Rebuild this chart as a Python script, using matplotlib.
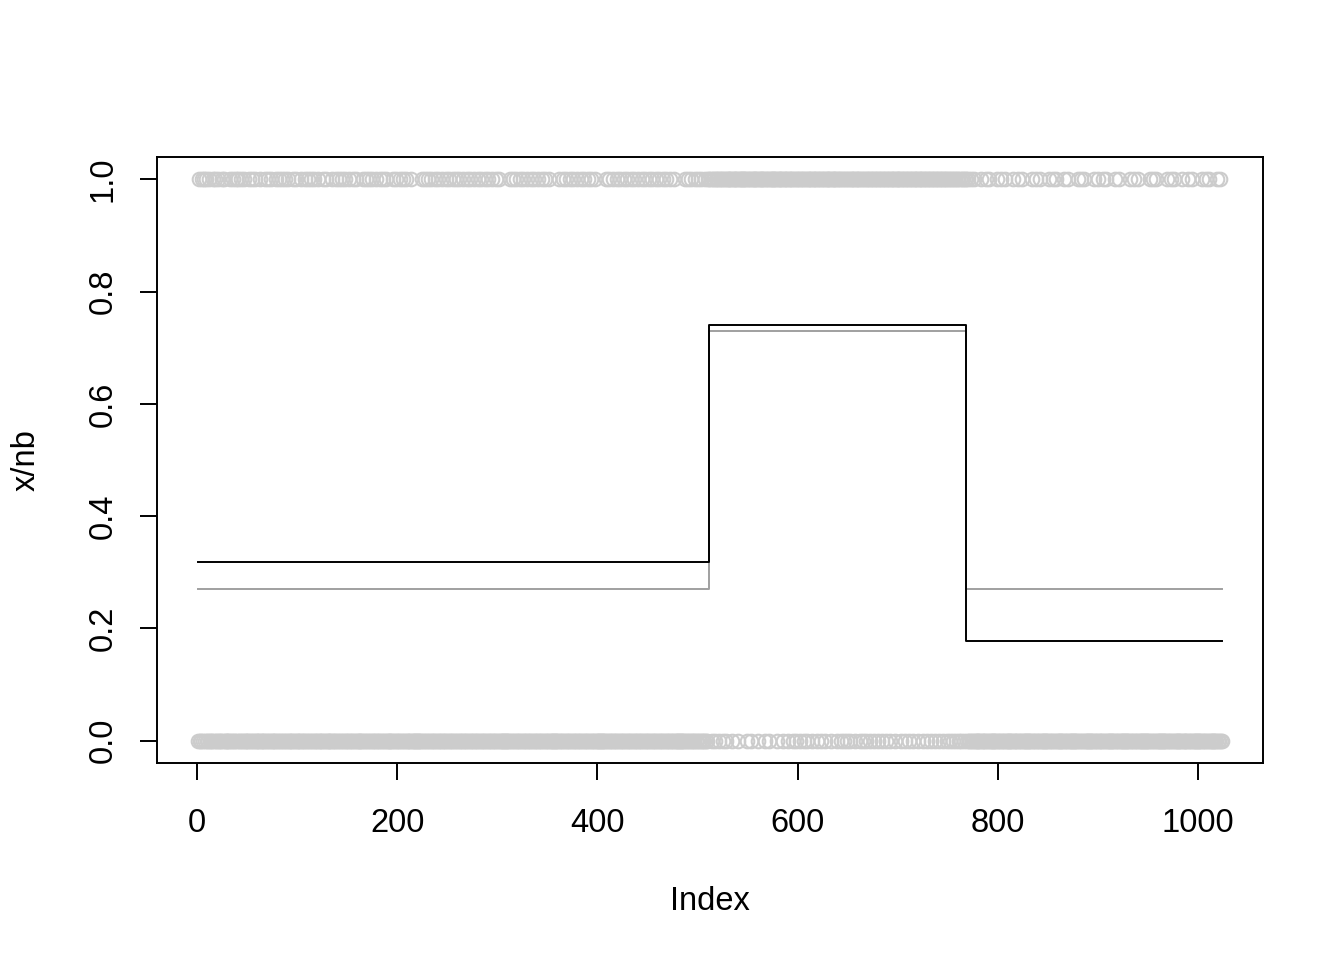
import numpy as np
import matplotlib
matplotlib.use("Agg")
import matplotlib.pyplot as plt

n = 1024
# indices (1-based) read as y = 1 in the first and last segments
ones_seg1 = [2,5,7,9,12,16,18,21,25,27,33,36,39,41,44,47,52,55,58,63,68,71,74,79,82,85,
             88,91,96,99,104,108,111,114,117,121,126,129,135,139,142,145,148,152,156,159,
             166,169,172,175,179,183,186,189,196,199,203,206,209,214,225,228,231,234,238,
             241,245,249,252,256,259,262,266,270,273,277,281,284,288,291,295,299,302,313,
             316,319,323,326,330,334,337,341,345,348,352,362,366,369,373,376,380,384,387,
             391,394,398,409,412,416,420,423,427,430,434,437,441,445,448,452,455,459,462,
             466,469,473,477,488,491,494,498,501,504,508,511]
# indices read as y = 0 in the middle segment
zeros_seg2 = [514,517,521,525,528,534,540,549,553,560,567,571,579,585,590,595,598,602,606,
              609,614,619,623,627,633,639,643,646,649,652,657,662,665,668,672,676,680,684,
              688,692,697,703,707,711,715,720,725,729,733,737,741,745,749,752,755,758,761,
              763,766]
ones_seg3 = [770,773,776,783,788,791,799,803,807,815,820,824,834,838,842,851,855,858,866,
             870,880,883,886,896,900,905,908,917,921,932,936,940,952,955,958,969,973,976,
             984,990,994,1004,1008,1011,1019,1022]

# step lines: segment edges and values
seg_edges = [1, 512, 768, 1024]
true_vals = [0.27, 0.73, 0.27]
est_vals = [0.318, 0.74, 0.178]

x = np.arange(1, n + 1)
y = np.zeros(n)
for i in ones_seg1 + ones_seg3:
    y[i - 1] = 1
y[511:768] = 1
for i in zeros_seg2:
    y[i - 1] = 0

plt.rcParams['font.family'] = ['Liberation Sans', 'DejaVu Sans']
fig = plt.figure(figsize=(13.44, 9.6), dpi=100)
ax = fig.add_axes([157/1344, 1 - 763/960, (1263 - 157)/1344, (763 - 157)/960])

ax.plot(x, y, linestyle='none', marker='o', markersize=9.8, markerfacecolor='none',
        markeredgecolor='#CCCCCC', markeredgewidth=1.5)
ax.step(seg_edges, true_vals + [true_vals[-1]], where='post', color='#A0A0A0', lw=1.4)
ax.step(seg_edges, est_vals + [est_vals[-1]], where='post', color='black', lw=1.4)

ax.set_xlim(1 - 0.04 * 1023, 1024 + 0.04 * 1023)
ax.set_ylim(-0.04, 1.04)
ax.set_xticks([0, 200, 400, 600, 800, 1000])
ax.set_yticks([0.0, 0.2, 0.4, 0.6, 0.8, 1.0])
ax.set_yticklabels(['0.0', '0.2', '0.4', '0.6', '0.8', '1.0'], rotation=90, va='center')
ax.tick_params(axis='x', labelsize=23.5, length=12.5, width=1.4, pad=20)
ax.tick_params(axis='y', labelsize=23.5, length=12.5, width=1.4, pad=15)
for s in ax.spines.values():
    s.set_linewidth(1.4)

ax.set_xlabel('Index', fontsize=23.5, labelpad=34)
ax.set_ylabel('x/nb', fontsize=23.5, labelpad=33)

fig.savefig('out.png', dpi=100)
